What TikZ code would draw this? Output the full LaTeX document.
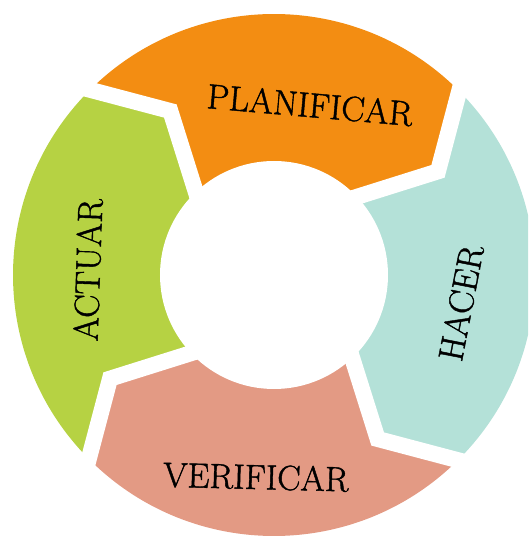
\documentclass[tikz,border=0pt]{standalone}
\usepackage{fontspec}
\newfontfamily\phasefont{Latin Modern Roman}[FakeBold=1.2]
\usetikzlibrary{calc}
\definecolor{planC}{HTML}{F38D12}
\definecolor{hacerC}{HTML}{B4E1D8}
\definecolor{verifC}{HTML}{E39A84}
\definecolor{actuarC}{HTML}{B6D243}
\begin{document}
\begin{tikzpicture}[
    gapline/.style={draw=white, line width=16pt, line join=miter, line cap=butt},
    phase/.style={font=\phasefont\fontsize{35}{40}\selectfont, inner sep=0pt, text=black}
  ]
  % ring radii and the angle of the dividers between the four phases
  \def\Ro{261pt}\def\Rm{194pt}\def\Ri{114pt}
  \useasboundingbox (-274pt,-262pt) rectangle (254pt,275pt);
  \clip (-274pt,-262pt) rectangle (254pt,275pt);
  % one coloured segment between two dividers (start angle #1, end angle #2)
  \newcommand\ringpart[3]{%
    \fill[#3] (#1:\Ro) arc[start angle=#1, end angle=#2, radius=\Ro]
      -- (#2-12.5:\Rm) -- (#2-1.5:\Ri) -- (0,0)
      -- (#1-1.5:\Ri) -- (#1-12.5:\Rm) -- cycle;}
  \ringpart{44.8}{134.8}{planC}
  \ringpart{134.8}{224.8}{actuarC}
  \ringpart{224.8}{314.8}{verifC}
  \ringpart{-45.2}{44.8}{hacerC}
  % white hub
  \fill[white] (0,0) circle[radius=\Ri];
  % chevron-shaped white gaps between neighbouring segments
  \foreach \t in {44.8,134.8,224.8,314.8}{
    \draw[gapline] ($(\t:\Ro)!-30pt!(\t-12.5:\Rm)$) -- (\t-12.5:\Rm)
      -- ($(\t-1.5:\Ri)!-30pt!(\t-12.5:\Rm)$);
  }
  % phase labels
  \node[phase, rotate=-5]   (plan)   at (36pt,170pt)   {PLANIFICAR};
  \node[phase, rotate=79]   (hacer)  at (187pt,-28pt)  {HACER};
  \node[phase, rotate=-1.5] (verif)  at (-18pt,-202pt) {VERIFICAR};
  \node[phase, rotate=88]   (actuar) at (-186pt,5pt)   {ACTUAR};
\end{tikzpicture}
\end{document}
